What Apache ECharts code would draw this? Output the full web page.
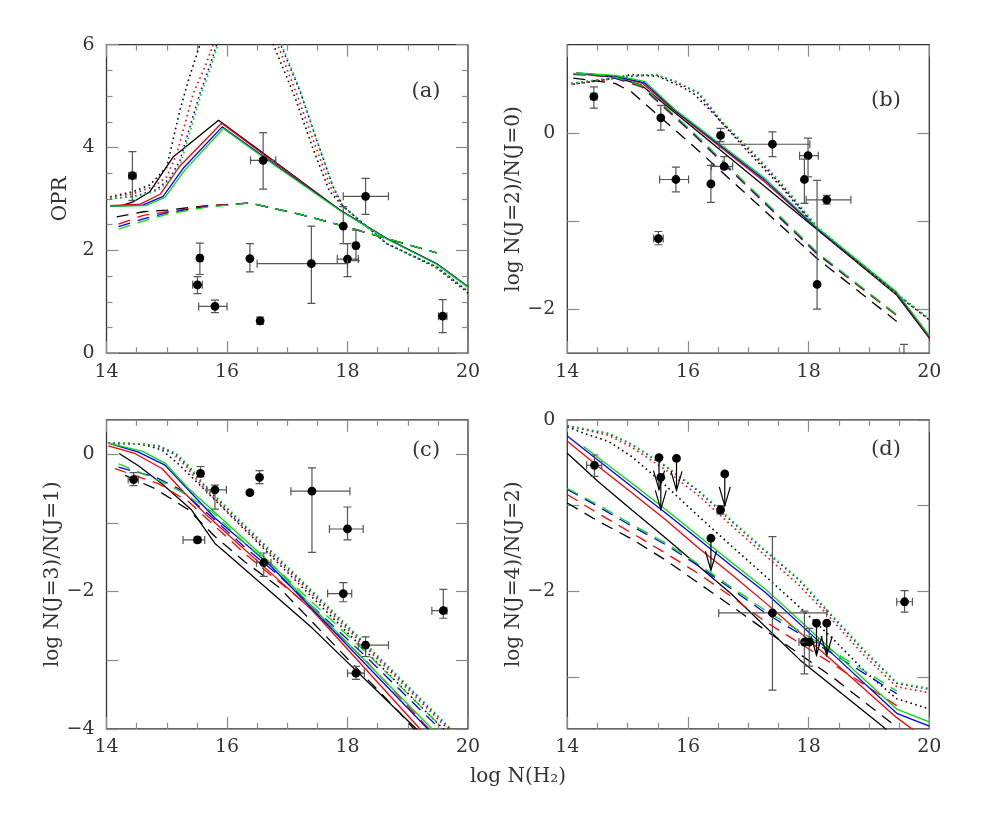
<!DOCTYPE html>
<html><head><meta charset="utf-8">
<script src="https://cdn.jsdelivr.net/npm/echarts@6/dist/echarts.min.js"></script>
<style>html,body{margin:0;padding:0;background:#fff}#c{width:981px;height:817px}</style>
</head><body><div id="c"></div><script>
// ---------- tick values / labels ----------
const xMajor = [14, 16, 18, 20];
const xMinor = [14.5, 15, 15.5, 16.5, 17, 17.5, 18.5, 19, 19.5];
const xLabels = [14, 16, 18, 20];
const aYMajor = [0, 2, 4, 6], aYMinor = [0.5,1,1.5,2.5,3,3.5,4.5,5,5.5], aYLabels = [0, 2, 4, 6];
const bYMajor = [-2, -1, 0], bYLabels = [-2, 0];
const cYMajor = [-4, -3, -2, -1, 0], cYLabels = [-4, -2, 0];
const dYMajor = [-3, -2, -1, 0], dYLabels = [-2, 0];
const panelNames = ['OPR', 'log N(J=2)/N(J=0)', 'log N(J=3)/N(J=1)', 'log N(J=4)/N(J=2)'];
const panelTags = ['(a)', '(b)', '(c)', '(d)'];
const xTitle = 'log N(H\u2082)';

// ---------- observations [x, y, xlo, xhi, ylo, yhi] ----------
const aObs = [
 [14.43,3.45,14.37,14.49,2.97,3.92],[16.60,3.75,16.39,16.81,3.19,4.29],[18.30,3.05,17.93,18.68,2.70,3.40],
 [17.93,2.47,17.93,17.93,2.13,2.85],[18.14,2.09,18.10,18.18,1.80,2.39],[18.00,1.83,17.83,18.18,1.49,2.13],
 [17.40,1.74,16.50,18.00,0.97,2.47],[15.55,1.85,15.51,15.59,1.53,2.14],[16.38,1.84,16.38,16.38,1.58,2.13],
 [15.51,1.33,15.43,15.59,1.16,1.49],[15.80,0.91,15.53,16.00,0.79,1.03],[16.55,0.63,16.52,16.58,0.56,0.70],
 [19.58,0.72,19.51,19.65,0.40,1.04]
];
const bObs = [
 [14.44,0.41,14.39,14.49,0.28,0.52],[15.55,0.17,15.55,15.55,0.03,0.31],[16.54,-0.03,16.54,16.54,-0.10,0.05],
 [17.40,-0.13,16.52,18.02,-0.27,0.01],[17.99,-0.26,17.85,18.16,-0.50,-0.06],[17.93,-0.53,17.93,17.93,-0.80,-0.30],
 [18.30,-0.76,17.96,18.70,-0.81,-0.71],[16.60,-0.38,16.39,16.74,-0.41,-0.27],[16.38,-0.58,16.38,16.38,-0.79,-0.37],
 [15.80,-0.53,15.53,16.01,-0.67,-0.39],[15.51,-1.20,15.43,15.59,-1.27,-1.12],[18.14,-1.72,18.14,18.14,-2.00,-0.54],
 [19.58,-2.70,19.58,19.58,-3.00,-2.40]
];
const cObs = [
 [14.45,-0.37,14.36,14.53,-0.46,-0.27],[15.56,-0.28,15.56,15.56,-0.33,-0.18],[15.80,-0.52,15.66,15.99,-0.80,-0.45],
 [16.38,-0.56,16.38,16.38,-0.59,-0.53],[16.54,-0.34,16.54,16.54,-0.43,-0.24],[17.41,-0.54,17.06,18.04,-1.43,-0.20],
 [18.00,-1.09,17.70,18.26,-1.25,-0.77],[15.51,-1.25,15.27,15.63,-1.29,-1.21],[16.61,-1.58,16.49,16.73,-1.78,-1.44],
 [17.93,-2.03,17.67,18.07,-2.15,-1.87],[19.59,-2.28,19.40,19.65,-2.39,-1.97],[18.30,-2.78,18.18,18.68,-2.95,-2.66],
 [18.14,-3.19,18.00,18.28,-3.28,-3.09]
];
const dObs = [
 [14.45,-0.53,14.32,14.57,-0.66,-0.41],[16.54,-1.05,16.50,16.58,-1.10,-1.00],[17.40,-2.25,16.51,18.30,-3.15,-1.36],
 [17.93,-2.59,17.93,17.93,-2.96,-2.23],[18.01,-2.59,17.84,18.16,-2.87,-2.43],[19.59,-2.12,19.46,19.72,-2.24,-1.99]
];
const dUpperLimits = [[15.52,-0.44],[15.55,-0.67],[15.81,-0.45],[16.61,-0.63],[16.38,-1.38],[18.13,-2.37],[18.30,-2.37]];

// ---------- model curves: panel (a) ----------
const aSolidK = [[14.06,2.87],[14.25,2.87],[14.44,2.94],[14.72,3.14],[15.11,3.82],[15.25,3.95],[15.86,4.53],[16.60,3.89],[17.88,2.78],[18.65,2.23],[19.48,1.74],[20.0,1.29]];
const aSolidR = [[14.06,2.87],[14.56,2.90],[14.89,3.09],[15.22,3.64],[15.91,4.47],[16.60,3.87],[17.88,2.78],[18.65,2.23],[19.48,1.74],[20.0,1.29]];
const aSolidB = [[14.06,2.86],[14.60,2.88],[14.94,3.05],[15.27,3.59],[15.92,4.40],[16.60,3.83],[17.88,2.78],[18.65,2.23],[19.48,1.74],[20.0,1.29]];
const aSolidG = [[14.06,2.86],[14.65,2.87],[14.97,3.03],[15.30,3.56],[15.94,4.37],[16.60,3.81],[17.88,2.77],[18.65,2.22],[19.48,1.73],[20.0,1.28]];
const aDashK = [[14.17,2.65],[14.61,2.75],[15.0,2.78],[15.66,2.87],[16.38,2.92],[17.21,2.70],[17.88,2.49],[18.65,2.23],[19.48,1.95]];
const aDashR = [[14.20,2.51],[14.61,2.68],[15.0,2.75],[15.66,2.86],[16.38,2.92],[17.21,2.70],[17.88,2.49],[18.65,2.23],[19.48,1.95]];
const aDashB = [[14.20,2.46],[14.61,2.61],[15.0,2.73],[15.66,2.85],[16.38,2.92],[17.21,2.70],[17.88,2.49],[18.65,2.23],[19.48,1.95]];
const aDashG = [[14.20,2.41],[14.61,2.57],[15.0,2.70],[15.66,2.84],[16.38,2.92],[17.21,2.70],[17.88,2.49],[18.65,2.23],[19.48,1.95]];
const aDotK = [[14.06,3.04],[14.44,3.14],[14.72,3.27],[15.0,3.62],[15.22,4.73],[15.36,5.31],[15.55,6.0],[16.2,8.3],[16.77,6.0],[17.12,5.0],[17.42,4.0],[17.70,3.15],[17.93,2.85],[18.65,2.13],[19.48,1.66],[20.0,1.17]];
const aDotR = [[14.06,3.04],[14.44,3.10],[14.78,3.24],[15.0,3.43],[15.17,3.89],[15.44,5.05],[15.66,5.64],[15.77,6.0],[16.3,7.8],[16.84,6.0],[17.17,5.0],[17.46,4.05],[17.73,3.2],[17.93,2.85],[18.65,2.13],[19.48,1.67],[20.0,1.19]];
const aDotB = [[14.06,3.00],[14.5,3.06],[14.83,3.18],[15.05,3.40],[15.22,3.75],[15.55,5.05],[15.72,5.6],[15.83,6.0],[16.35,7.7],[16.89,6.0],[17.21,5.1],[17.49,4.14],[17.76,3.24],[17.93,2.85],[18.65,2.13],[19.48,1.68],[20.0,1.20]];
const aDotG = [[14.06,3.00],[14.5,3.05],[14.85,3.16],[15.07,3.38],[15.24,3.72],[15.57,5.03],[15.74,5.58],[15.85,6.0],[16.37,7.7],[16.91,6.0],[17.21,5.12],[17.49,4.14],[17.76,3.24],[17.93,2.85],[18.65,2.13],[19.48,1.68],[20.0,1.20]];

// ---------- panel (b) ----------
const bSolidK = [[14.15,0.67],[14.79,0.63],[15.23,0.54],[18.13,-1.09],[19.46,-1.84],[20.0,-2.33]];
const bSolidR = [[14.15,0.67],[14.80,0.64],[15.25,0.56],[15.79,0.24],[17.28,-0.56],[18.13,-1.08],[19.46,-1.82],[20.0,-2.32]];
const bSolidB = [[14.15,0.68],[14.80,0.64],[15.27,0.57],[15.79,0.25],[17.28,-0.54],[18.13,-1.08],[19.45,-1.81],[20.0,-2.31]];
const bSolidG = [[14.15,0.68],[14.80,0.65],[15.29,0.58],[15.79,0.26],[17.28,-0.52],[18.13,-1.07],[19.45,-1.80],[20.0,-2.30]];
const bDashK = [[14.10,0.62],[14.79,0.56],[15.07,0.46],[16.17,-0.20],[18.13,-1.42],[19.46,-2.14]];
const bDashR = [[14.10,0.66],[14.70,0.64],[15.23,0.52],[16.06,0.00],[18.13,-1.37],[19.49,-2.09]];
const bDashB = [[14.10,0.67],[14.70,0.64],[15.23,0.53],[16.06,0.01],[18.13,-1.36],[19.49,-2.08]];
const bDashG = [[14.10,0.67],[14.70,0.65],[15.25,0.53],[16.08,0.01],[18.15,-1.36],[19.49,-2.08]];
const bDotK = [[14.10,0.55],[14.60,0.60],[15.07,0.66],[15.50,0.64],[15.90,0.52],[16.10,0.44],[16.45,0.20],[17.00,-0.22],[17.58,-0.64],[18.13,-1.08],[19.45,-1.83],[20.0,-2.12]];
const bDotR = [[14.07,0.55],[14.51,0.59],[14.96,0.63],[15.45,0.66],[15.79,0.58],[16.17,0.45],[16.54,0.13],[17.04,-0.22],[17.58,-0.62],[18.13,-1.08],[19.45,-1.83],[20.0,-2.12]];
const bDotB = [[14.07,0.56],[14.51,0.60],[14.96,0.64],[15.45,0.66],[15.79,0.58],[16.17,0.45],[16.56,0.12],[17.06,-0.22],[17.58,-0.61],[18.13,-1.07],[19.45,-1.82],[20.0,-2.11]];
const bDotG = [[14.07,0.56],[14.51,0.60],[14.96,0.64],[15.47,0.66],[15.81,0.58],[16.19,0.45],[16.58,0.12],[17.08,-0.22],[17.60,-0.61],[18.15,-1.07],[19.45,-1.82],[20.0,-2.11]];

// ---------- panel (c) ----------
const cSolidK = [[14.21,0.01],[14.53,-0.17],[14.92,-0.43],[15.41,-0.81],[15.80,-1.30],[15.97,-1.43],[17.41,-2.53],[19.07,-3.94],[19.5,-4.3]];
const cSolidR = [[14.03,0.12],[14.47,0.01],[14.92,-0.21],[15.30,-0.57],[15.63,-0.86],[16.19,-1.31],[16.74,-1.74],[17.41,-2.27],[19.20,-4.0],[19.5,-4.3]];
const cSolidB = [[14.03,0.16],[14.53,0.03],[14.97,-0.16],[15.41,-0.57],[15.80,-0.93],[16.30,-1.30],[16.74,-1.64],[17.52,-2.35],[19.33,-4.0],[19.6,-4.25]];
const cSolidG = [[14.03,0.16],[14.60,0.04],[14.97,-0.13],[15.36,-0.50],[15.75,-0.81],[16.30,-1.25],[16.74,-1.60],[17.63,-2.42],[19.40,-4.0],[19.7,-4.3]];
const cDashK = [[14.31,-0.31],[14.80,-0.50],[15.36,-0.81],[15.80,-1.20],[16.30,-1.57],[16.85,-1.93],[17.29,-2.33],[17.76,-2.76],[18.87,-3.77],[19.2,-4.1]];
const cDashR = [[14.14,-0.21],[14.86,-0.43],[15.36,-0.69],[15.80,-1.05],[16.30,-1.45],[16.85,-1.85],[17.30,-2.17],[18.32,-3.02],[19.35,-4.0]];
const cDashB = [[14.20,-0.19],[14.80,-0.33],[15.19,-0.50],[15.75,-0.92],[16.30,-1.36],[16.85,-1.76],[17.21,-2.05],[18.32,-2.96],[19.45,-3.93]];
const cDashG = [[14.20,-0.14],[14.86,-0.38],[15.25,-0.55],[15.75,-0.84],[16.30,-1.30],[16.85,-1.69],[17.21,-1.99],[18.32,-2.90],[19.50,-3.92]];
const cDotK = [[14.03,0.16],[14.53,0.15],[14.70,0.12],[14.92,0.06],[15.19,-0.14],[15.63,-0.52],[16.50,-1.28],[17.50,-2.16],[19.53,-3.95],[19.7,-4.1]];
const cDotR = [[14.03,0.16],[14.53,0.15],[14.83,0.12],[15.10,0.01],[15.32,-0.18],[15.59,-0.47],[16.15,-0.96],[16.70,-1.43],[17.25,-1.90],[17.92,-2.48],[19.66,-4.0],[19.9,-4.2]];
const cDotB = [[14.03,0.16],[14.53,0.15],[14.86,0.12],[15.14,0.01],[15.36,-0.18],[15.63,-0.47],[16.19,-0.96],[16.74,-1.43],[17.29,-1.90],[17.96,-2.48],[19.70,-4.0],[19.9,-4.2]];
const cDotG = [[14.03,0.16],[14.55,0.15],[14.88,0.12],[15.16,0.01],[15.38,-0.18],[15.65,-0.47],[16.21,-0.96],[16.76,-1.43],[17.31,-1.90],[17.98,-2.48],[19.72,-4.0],[19.9,-4.16]];

// ---------- panel (d) ----------
const dSolidK = [[14.0,-0.39],[14.51,-0.72],[15.07,-1.05],[15.62,-1.37],[16.17,-1.70],[16.72,-2.03],[17.86,-2.80],[19.24,-3.58],[19.5,-3.75]];
const dSolidR = [[14.0,-0.25],[14.51,-0.54],[15.07,-0.85],[15.62,-1.16],[16.17,-1.49],[16.72,-1.80],[17.28,-2.13],[18.40,-2.81],[19.46,-3.47],[20.0,-3.75]];
const dSolidB = [[14.0,-0.19],[14.51,-0.47],[15.07,-0.78],[15.62,-1.08],[16.17,-1.39],[16.72,-1.70],[17.28,-2.01],[18.40,-2.73],[19.46,-3.42],[20.0,-3.57]];
const dSolidG = [[14.27,-0.31],[15.07,-0.74],[15.62,-1.04],[16.17,-1.35],[16.72,-1.66],[17.28,-1.97],[18.40,-2.69],[19.46,-3.37],[20.0,-3.52]];
const dDashK = [[14.0,-0.97],[14.51,-1.18],[15.07,-1.39],[15.62,-1.63],[16.17,-1.90],[16.72,-2.17],[17.28,-2.45],[18.40,-3.00],[19.46,-3.58]];
const dDashR = [[14.0,-0.87],[14.51,-1.09],[15.07,-1.32],[15.62,-1.55],[16.17,-1.79],[16.72,-2.06],[17.28,-2.35],[18.41,-2.85],[19.46,-3.33]];
const dDashB = [[14.0,-0.81],[14.51,-1.01],[15.07,-1.24],[15.62,-1.45],[16.17,-1.70],[16.72,-1.97],[17.28,-2.25],[18.41,-2.73],[19.46,-3.19]];
const dDashG = [[14.0,-0.80],[14.51,-0.99],[15.07,-1.22],[15.62,-1.43],[16.17,-1.68],[16.72,-1.95],[17.28,-2.22],[18.41,-2.70],[19.46,-3.16]];
const dDotK = [[14.0,-0.08],[14.29,-0.16],[14.68,-0.25],[15.07,-0.43],[15.62,-0.76],[16.17,-1.12],[16.72,-1.47],[17.28,-1.82],[17.83,-2.17],[18.40,-2.55],[18.96,-2.95],[19.46,-3.25],[20.0,-3.37]];
const dDotR = [[14.0,-0.07],[14.68,-0.18],[15.07,-0.32],[15.62,-0.58],[16.17,-0.88],[16.72,-1.23],[17.28,-1.58],[17.83,-1.92],[18.27,-2.24],[18.90,-2.73],[19.46,-3.11],[20.0,-3.18]];
const dDotB = [[14.0,-0.07],[14.68,-0.16],[15.07,-0.29],[15.62,-0.54],[16.17,-0.83],[16.72,-1.18],[17.28,-1.53],[17.83,-1.86],[18.27,-2.20],[18.90,-2.68],[19.46,-3.07],[20.0,-3.14]];
const dDotG = [[14.0,-0.07],[14.70,-0.16],[15.09,-0.29],[15.64,-0.54],[16.19,-0.83],[16.74,-1.18],[17.30,-1.53],[17.85,-1.86],[18.29,-2.20],[18.92,-2.68],[19.46,-3.06],[20.0,-3.13]];

// ---------- layout & style (not data) ----------
const FONT = "'DejaVu Serif', 'Liberation Serif', serif";
const TXT = '#333';
const gridBoxes = [
  {left:106.5, top:44.6, width:361.5, height:308.6},
  {left:567.3, top:44.6, width:362, height:308.6},
  {left:106.5, top:419.8, width:361.5, height:309},
  {left:567.3, top:419.8, width:362, height:309}
];
const yRanges = [[0,6],[-2.5,1],[-4,0.5],[-3.6,0]];
const yMajors = [aYMajor, bYMajor, cYMajor, dYMajor];
const yMinors = [aYMinor, [], [], []];
const yLabelSets = [aYLabels, bYLabels, cYLabels, dYLabels];
const nameGaps = [36, 40, 36, 40];
const colorMap = {K:'#000000', R:'#ff0000', B:'#0000ff', G:'#00dd00'};
const styleMap = {Dot:{type:[1.6,3.4], width:1.6}, Dash:{type:[12,8], width:1.3}, Solid:{type:'solid', width:1.3}};
const curveSets = [
  {Dot:{K:aDotK,R:aDotR,B:aDotB,G:aDotG}, Dash:{K:aDashK,R:aDashR,B:aDashB,G:aDashG}, Solid:{K:aSolidK,R:aSolidR,B:aSolidB,G:aSolidG}},
  {Dot:{K:bDotK,R:bDotR,B:bDotB,G:bDotG}, Dash:{K:bDashK,R:bDashR,B:bDashB,G:bDashG}, Solid:{K:bSolidK,R:bSolidR,B:bSolidB,G:bSolidG}},
  {Dot:{K:cDotK,R:cDotR,B:cDotB,G:cDotG}, Dash:{K:cDashK,R:cDashR,B:cDashB,G:cDashG}, Solid:{K:cSolidK,R:cSolidR,B:cSolidB,G:cSolidG}},
  {Dot:{K:dDotK,R:dDotR,B:dDotB,G:dDotG}, Dash:{K:dDashK,R:dDashR,B:dDashB,G:dDashG}, Solid:{K:dSolidK,R:dSolidR,B:dSolidB,G:dSolidG}}
];
const obsSets = [aObs, bObs, cObs, dObs];
const tagPos = [[426,92],[886,101],[426,451],[886,450]];

const fmt = v => (v < 0 ? '\u2212' + Math.abs(v) : String(v));

function mkAxis(gi, pos, min, max, ticks, len, labels, name, isY) {
  const ax = {
    type:'value', gridIndex:gi, position:pos, min:min, max:max,
    axisLine:{show:false, onZero:false},
    splitLine:{show:false},
    axisTick:{show:ticks.length>0, inside:true, length:len, customValues:ticks.length?ticks:undefined,
              lineStyle:{color:'#8a8a8a', width:1.2}},
    axisLabel:{show:!!labels, customValues:labels||undefined, formatter:fmt,
               fontFamily:FONT, fontSize:19, color:TXT, margin: isY ? 12 : 9},
    silent:true
  };
  if (name) {
    ax.name = name; ax.nameLocation = 'middle'; ax.nameGap = nameGaps[gi];
    ax.nameTextStyle = {fontFamily:FONT, fontSize:20, color:TXT};
  }
  return ax;
}

const xAxis = [], yAxis = [], grid = [], series = [];
gridBoxes.forEach((g, gi) => {
  grid.push(Object.assign({show:true, borderColor:'#333', borderWidth:1.3, backgroundColor:'transparent'}, g));
  xAxis.push(mkAxis(gi,'bottom',14,20,xMajor,12,xLabels,null,false));
  xAxis.push(mkAxis(gi,'bottom',14,20,xMinor,6,null,null,false));
  xAxis.push(mkAxis(gi,'top',14,20,xMajor,12,null,null,false));
  xAxis.push(mkAxis(gi,'top',14,20,xMinor,6,null,null,false));
  const [ymin,ymax] = yRanges[gi];
  yAxis.push(mkAxis(gi,'left',ymin,ymax,yMajors[gi],12,yLabelSets[gi],panelNames[gi],true));
  yAxis.push(mkAxis(gi,'left',ymin,ymax,yMinors[gi],6,null,null,true));
  yAxis.push(mkAxis(gi,'right',ymin,ymax,yMajors[gi],12,null,null,true));
  yAxis.push(mkAxis(gi,'right',ymin,ymax,yMinors[gi],6,null,null,true));

  ['K','R','B','G'].forEach(c => {
    ['Dot','Dash','Solid'].forEach(s => {
      series.push({
        type:'line', xAxisIndex:4*gi, yAxisIndex:4*gi, data:curveSets[gi][s][c],
        showSymbol:false, symbol:'none', silent:true, animation:false, clip:true, z:2,
        lineStyle:{color:colorMap[c], width:styleMap[s].width, type:styleMap[s].type, cap:'butt'}
      });
    });
  });

  series.push({
    type:'custom', xAxisIndex:4*gi, yAxisIndex:4*gi, data:obsSets[gi], clip:true, z:5, silent:true, animation:false,
    encode:{x:[0,2,3], y:[1,4,5]},
    renderItem(params, api) {
      const x=api.value(0), y=api.value(1), xl=api.value(2), xh=api.value(3), yl=api.value(4), yh=api.value(5);
      const c = api.coord([x,y]);
      const st = {stroke:'#555', lineWidth:1.2, fill:null};
      const L = (x1,y1,x2,y2) => ({type:'line', shape:{x1,y1,x2,y2}, style:st});
      const ch = [];
      if (xh > xl) {
        const a = api.coord([xl,y]), b = api.coord([xh,y]);
        ch.push(L(a[0],a[1],b[0],b[1]), L(a[0],a[1]-4,a[0],a[1]+4), L(b[0],b[1]-4,b[0],b[1]+4));
      }
      if (yh > yl) {
        const a = api.coord([x,yl]), b = api.coord([x,yh]);
        ch.push(L(a[0],a[1],b[0],b[1]), L(a[0]-4,a[1],a[0]+4,a[1]), L(b[0]-4,b[1],b[0]+4,b[1]));
      }
      ch.push({type:'circle', shape:{cx:c[0], cy:c[1], r:4.4}, style:{fill:'#000'}});
      return {type:'group', children:ch};
    }
  });
});

// upper limits (panel d)
series.push({
  type:'custom', xAxisIndex:12, yAxisIndex:12, data:dUpperLimits, clip:true, z:6, silent:true, animation:false,
  encode:{x:0, y:1},
  renderItem(params, api) {
    const c = api.coord([api.value(0), api.value(1)]);
    const tip = [c[0], c[1]+32];
    const st = {stroke:'#000', lineWidth:1.2, fill:null};
    return {type:'group', children:[
      {type:'line', shape:{x1:c[0], y1:c[1], x2:tip[0], y2:tip[1]}, style:st},
      {type:'polyline', shape:{points:[[tip[0]-5.5,tip[1]-19],[tip[0],tip[1]],[tip[0]+5.5,tip[1]-19]]}, style:st},
      {type:'circle', shape:{cx:c[0], cy:c[1], r:4.4}, style:{fill:'#000'}}
    ]};
  }
});

const graphic = panelTags.map((t, i) => ({
  type:'text', x:tagPos[i][0], y:tagPos[i][1], silent:true,
  style:{text:t, fontFamily:FONT, fontSize:21, fill:TXT, align:'center', verticalAlign:'middle'}
}));
graphic.push({type:'text', x:518, y:777, silent:true,
  style:{text:xTitle, fontFamily:FONT, fontSize:20, fill:TXT, align:'center', verticalAlign:'middle'}});

const chart = echarts.init(document.getElementById('c'), null, {renderer:'canvas'});
chart.setOption({animation:false, backgroundColor:'#fff', grid, xAxis, yAxis, series, graphic});
</script></body></html>
